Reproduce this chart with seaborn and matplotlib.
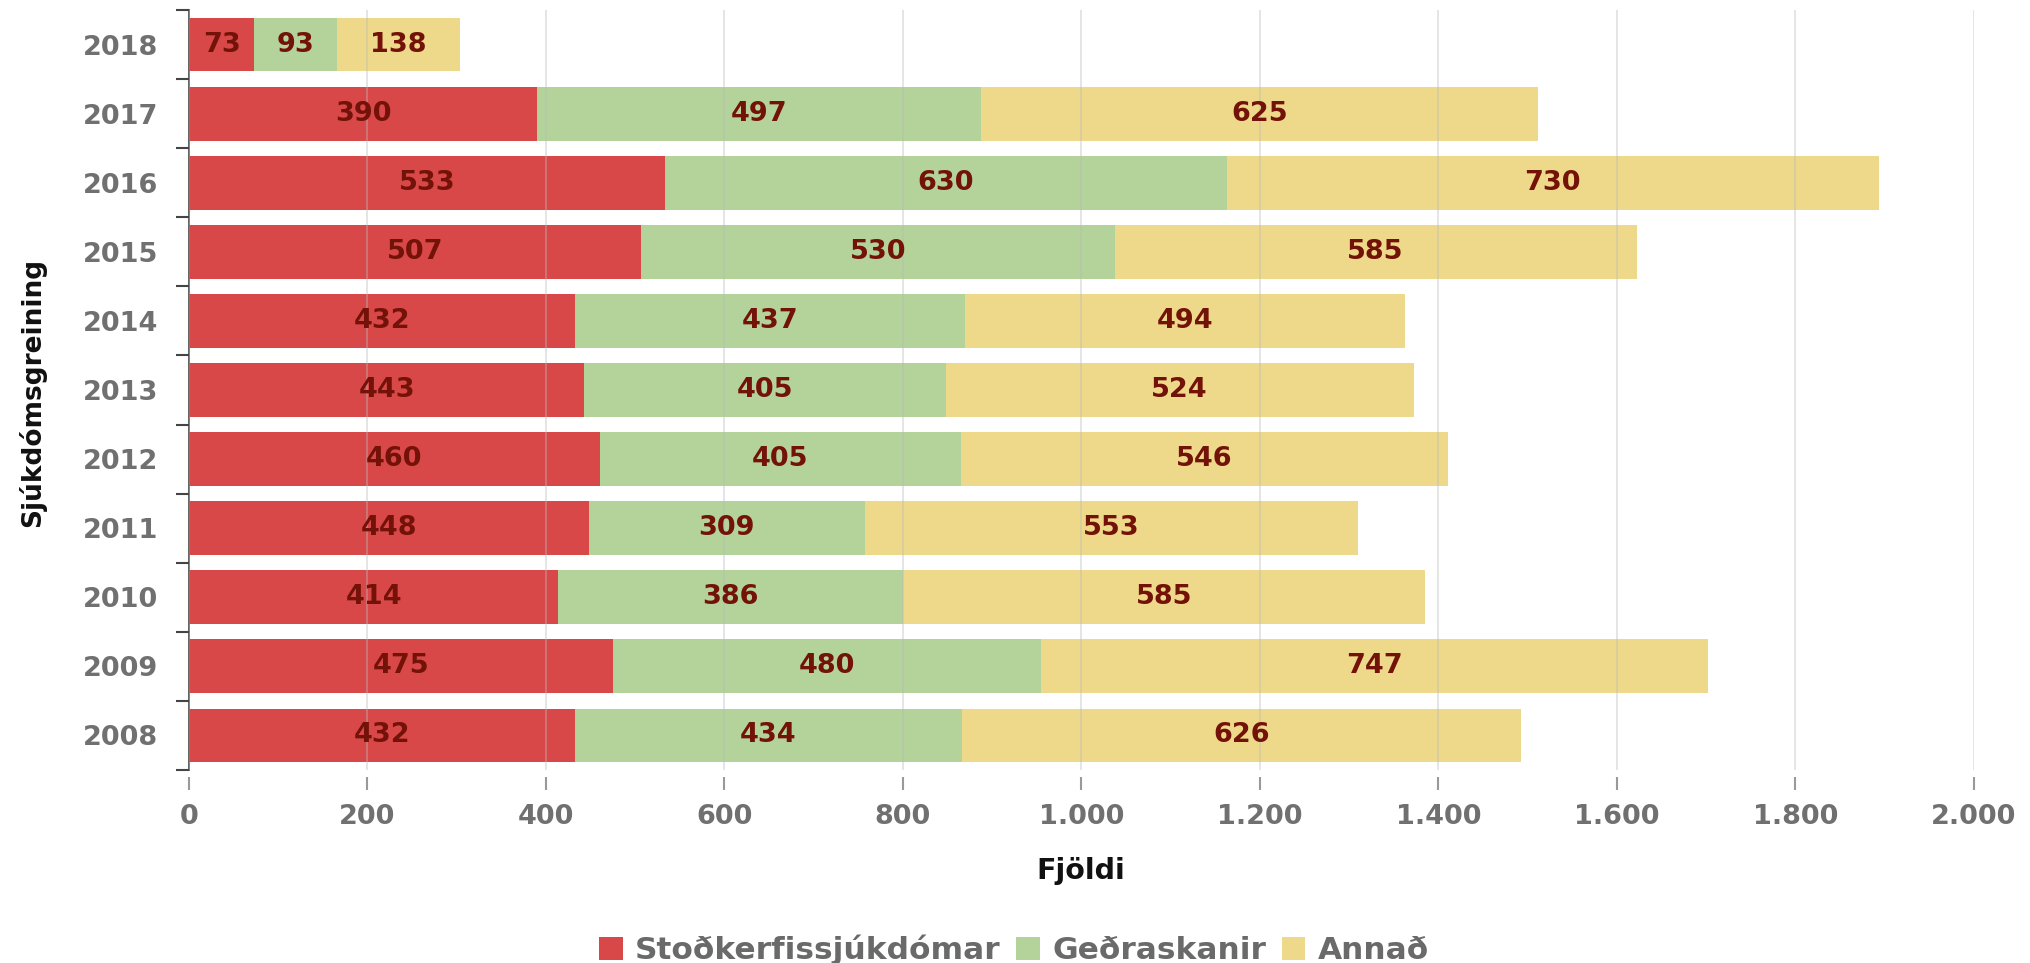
import matplotlib
matplotlib.use("Agg")
import matplotlib.pyplot as plt
from matplotlib.patches import Patch
from matplotlib.ticker import FuncFormatter, FixedLocator
import numpy as np
import pandas as pd
import seaborn as sns

# data, top row of the chart first
years = ["2018", "2017", "2016", "2015", "2014", "2013", "2012", "2011", "2010", "2009", "2008"]
stodkerfi = [73, 390, 533, 507, 432, 443, 460, 448, 414, 475, 432]
gedraskanir = [93, 497, 630, 530, 437, 405, 405, 309, 386, 480, 434]
annad = [138, 625, 730, 585, 494, 524, 546, 553, 585, 747, 626]
series_names = ["Stoðkerfissjúkdómar", "Geðraskanir", "Annað"]
x_ticks = [0, 200, 400, 600, 800, 1000, 1200, 1400, 1600, 1800, 2000]

colors = ["#d94848", "#b4d39b", "#eed98a"]
label_color = "#731208"
tick_color = "#707070"

df = pd.DataFrame({"year": years, "s1": stodkerfi, "s2": gedraskanir, "s3": annad})
df["c1"] = df["s1"]
df["c2"] = df["s1"] + df["s2"]
df["c3"] = df["c2"] + df["s3"]

sns.set_theme(style="white")
plt.rcParams["font.family"] = ["DejaVu Sans"]

fig = plt.figure(figsize=(20.31, 9.63), dpi=100)
ax = fig.add_axes([189 / 2031, 1 - 770 / 963, (1974 - 189) / 2031, 760 / 963])

# stacked bars: draw cumulative totals from the widest down
for col, color in zip(["c3", "c2", "c1"], colors[::-1]):
    sns.barplot(data=df, y="year", x=col, order=years, color=color, saturation=1,
                width=0.78, linewidth=0, orient="h", ax=ax)

# value labels centred in each segment
for i, row in df.iterrows():
    lefts = [0, row["c1"], row["c2"]]
    for left, val in zip(lefts, [row["s1"], row["s2"], row["s3"]]):
        ax.text(left + val / 2, i, f"{val}", ha="center", va="center",
                fontsize=19.5, fontweight="bold", color=label_color)

ax.set_xlim(0, 2000)
ax.set_ylim(len(years) - 0.5, -0.5)
ax.xaxis.set_major_locator(FixedLocator(x_ticks))
ax.xaxis.set_major_formatter(FuncFormatter(lambda v, p: f"{int(v):,}".replace(",", ".")))

ax.grid(axis="x", color="#bbbbbb", linewidth=1.2, alpha=0.45)
ax.set_axisbelow(False)

for side in ["top", "right"]:
    ax.spines[side].set_visible(False)
ax.spines["bottom"].set_position(("outward", 5))
ax.spines["bottom"].set_visible(False)
ax.spines["left"].set_color("#555555")
ax.spines["left"].set_linewidth(1.3)

ax.set_yticks(np.arange(-0.5, len(years) + 0.5, 1), minor=True)
ax.tick_params(axis="y", which="major", length=0, pad=22, labelsize=19.5, labelcolor=tick_color)
ax.tick_params(axis="y", which="minor", length=9.5, width=1.5, color="#444444", left=True)
ax.tick_params(axis="x", which="major", length=9.5, width=1.5, color="#999999", bottom=True,
               pad=10, labelsize=19.5, labelcolor=tick_color)
for lab in ax.get_xticklabels() + ax.get_yticklabels():
    lab.set_fontweight("bold")

ax.set_xlabel("")
ax.set_ylabel("")
fig.text(32 / 2031, 1 - 392 / 963, "Sjúkdómsgreining", rotation=90, ha="center", va="center",
         fontsize=19, fontweight="bold", color="#111111")
fig.text(1081 / 2031, 1 - 871 / 963, "Fjöldi", ha="center", va="center",
         fontsize=20.5, fontweight="bold", color="#111111")

handles = [Patch(facecolor=c, edgecolor="none", label=n) for c, n in zip(colors, series_names)]
leg = fig.legend(handles=handles, loc="center", bbox_to_anchor=(1014 / 2031, 1 - 950 / 963),
                 ncol=3, frameon=False, handlelength=0.75, handleheight=0.75, handletextpad=0.4,
                 columnspacing=0.5, prop={"size": 22.5, "weight": "bold"})
for t in leg.get_texts():
    t.set_color("#6a6a6a")

fig.savefig("out.png", dpi=100)
